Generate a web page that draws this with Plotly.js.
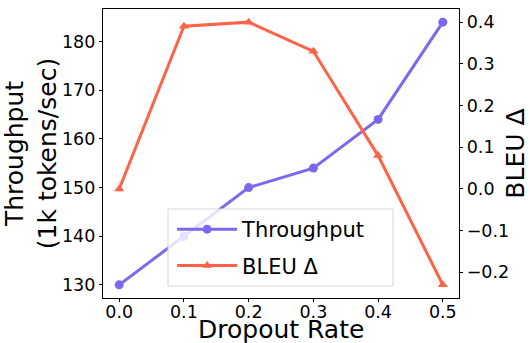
<!DOCTYPE html>
<html><head><meta charset="utf-8">
<script src="https://cdn.plot.ly/plotly-3.0.1.min.js"></script>
<style>html,body{margin:0;padding:0;background:#fff}</style>
</head><body>
<div id="chart" style="width:530px;height:343px"></div>
<script>
const dropout = [0.0, 0.1, 0.2, 0.3, 0.4, 0.5];
const throughput = [130, 140, 150, 154, 164, 184];
const bleuDelta = [0.0, 0.39, 0.40, 0.33, 0.08, -0.23];
const xTicks = [0.0, 0.1, 0.2, 0.3, 0.4, 0.5];
const leftTicks = [130, 140, 150, 160, 170, 180];
const rightTicks = [-0.2, -0.1, 0.0, 0.1, 0.2, 0.3, 0.4];
const xTitle = 'Dropout Rate';

const font = 'DejaVu Sans, sans-serif';
const traces = [
  {x: dropout, y: throughput, name: 'Throughput', type: 'scatter', mode: 'lines+markers', legendgroup: 'a',
   line: {color: '#7b68ee', width: 3}, marker: {symbol: 'circle', size: 9, color: '#7b68ee'}, yaxis: 'y'},
  {x: dropout, y: bleuDelta, name: 'BLEU Δ', type: 'scatter', mode: 'lines+markers', legendgroup: 'b',
   line: {color: '#ff6347', width: 3}, marker: {symbol: 'triangle-up', size: 9, color: '#ff6347'}, yaxis: 'y2'}
];
const axisCommon = {showgrid: false, zeroline: false, showline: true, linecolor: '#000', linewidth: 1.2,
  ticks: 'outside', ticklen: 3, tickwidth: 1, tickcolor: '#000',
  tickfont: {family: font, size: 17.5, color: '#000'}};
const layout = {
  width: 530, height: 343,
  margin: {l: 103, r: 71, t: 9, b: 45},
  paper_bgcolor: '#fff', plot_bgcolor: '#fff',
  font: {family: font, color: '#000'},
  showlegend: true,
  shapes: [{type: 'rect', xref: 'paper', yref: 'paper', x0: 0.1826, x1: 0.8146, y0: 0.0415, y1: 0.308,
    line: {color: '#d6d6d6', width: 1}, fillcolor: 'rgba(255,255,255,0.8)', layer: 'above'}],
  annotations: [{text: xTitle, xref: 'paper', yref: 'paper', x: 0.5, y: 0, xanchor: 'center', yanchor: 'top',
    yshift: -15, showarrow: false, font: {family: font, size: 25, color: '#000'}}],
  legend: {x: 0.194, y: 0.308, xanchor: 'left', yanchor: 'top', bgcolor: 'rgba(0,0,0,0)',
    borderwidth: 0, font: {family: font, size: 21, color: '#000'}, itemwidth: 60,
    traceorder: 'grouped', tracegroupgap: 6},
  xaxis: Object.assign({}, axisCommon, {range: [-0.025, 0.525], tickvals: xTicks, tickformat: '.1f', mirror: true,
    ticklabelposition: 'outside', ticklabelstandoff: -5}),
  yaxis: Object.assign({}, axisCommon, {range: [127.3, 186.7], tickvals: leftTicks, mirror: true,
    title: {text: 'Throughput<br>(1k tokens/sec)', font: {family: font, size: 25, color: '#000'}, standoff: 1}}),
  yaxis2: Object.assign({}, axisCommon, {overlaying: 'y', side: 'right', range: [-0.2615, 0.4315], tickvals: rightTicks,
    tickformat: '.1f', title: {text: 'BLEU Δ', font: {family: font, size: 25, color: '#000'}, standoff: 7}})
};
Plotly.newPlot('chart', traces, layout, {staticPlot: true, displayModeBar: false});
</script>
</body></html>
